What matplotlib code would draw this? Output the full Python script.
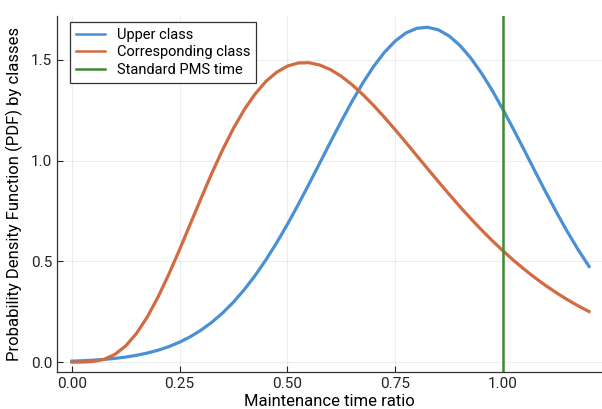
import matplotlib
matplotlib.use("Agg")
import matplotlib.pyplot as plt

plt.rcParams["font.family"] = ["Roboto", "DejaVu Sans"]

# maintenance time ratio grid, read every 0.025
ratio = [i * 0.025 for i in range(49)]

upper_class = [
    0.0049, 0.0069, 0.0097, 0.0134, 0.0185, 0.0251, 0.0338, 0.0449, 0.0591, 0.0769,
    0.0991, 0.1262, 0.1590, 0.1981, 0.2443, 0.2979, 0.3596, 0.4291, 0.5067, 0.5916,
    0.6834, 0.7810, 0.8829, 0.9873, 1.0922, 1.1949, 1.2935, 1.3850, 1.4670, 1.5370,
    1.5931, 1.6334, 1.6565, 1.6619, 1.6494, 1.6192, 1.5725, 1.5105, 1.4355, 1.3495,
    1.2547, 1.1541, 1.0502, 0.9452, 0.8416, 0.7414, 0.6460, 0.5567, 0.4746,
]

corresponding_class = [
    0.0000, 0.0002, 0.0031, 0.0139, 0.0383, 0.0805, 0.1422, 0.2240, 0.3230, 0.4360,
    0.5587, 0.6863, 0.8142, 0.9385, 1.0546, 1.1606, 1.2528, 1.3304, 1.3927, 1.4384,
    1.4690, 1.4845, 1.4860, 1.4745, 1.4519, 1.4188, 1.3770, 1.3282, 1.2741, 1.2155,
    1.1538, 1.0903, 1.0254, 0.9608, 0.8968, 0.8339, 0.7726, 0.7136, 0.6573, 0.6036,
    0.5526, 0.5048, 0.4599, 0.4180, 0.3790, 0.3429, 0.3096, 0.2789, 0.2509,
]

standard_pms_time = 1.0

xticks = [0.0, 0.25, 0.5, 0.75, 1.0]
xtick_labels = ["0.00", "0.25", "0.50", "0.75", "1.00"]
yticks = [0.0, 0.5, 1.0, 1.5]
ytick_labels = ["0.0", "0.5", "1.0", "1.5"]

fig = plt.figure(figsize=(6.02, 4.09), dpi=100)
ax = fig.add_axes([0.095, 0.09, 0.905, 0.871])

ax.plot(ratio, upper_class, color="#4a90d4", lw=2.3, label="Upper class")
ax.plot(ratio, corresponding_class, color="#d16b42", lw=2.3, label="Corresponding class")
ax.axvline(standard_pms_time, color="#3f8a30", lw=1.8, label="Standard PMS time")

ax.set_xlim(-0.034, 1.23)
ax.set_ylim(-0.05, 1.718)
ax.set_xticks(xticks, xtick_labels)
ax.set_yticks(yticks, ytick_labels)
ax.tick_params(direction="in", length=4, width=0.8, labelsize=11, colors="#222222")
ax.grid(True, color="#000000", alpha=0.07, lw=0.8)

for side in ["top", "right"]:
    ax.spines[side].set_visible(False)
for side in ["left", "bottom"]:
    ax.spines[side].set_color("#333333")
    ax.spines[side].set_linewidth(0.9)

ax.set_xlabel("Maintenance time ratio", fontsize=12, labelpad=2)
ax.set_ylabel("Probability Density Function (PDF) by classes", fontsize=12, labelpad=6)

leg = ax.legend(loc="upper left", fontsize=10.5, fancybox=False, framealpha=1,
                edgecolor="#333333", handlelength=2.0, borderpad=0.4,
                labelspacing=0.25, borderaxespad=0, bbox_to_anchor=(0.024, 0.983))
leg.get_frame().set_linewidth(0.9)
for line in leg.get_lines():
    line.set_linewidth(1.8)

fig.savefig("out.png", dpi=100)
